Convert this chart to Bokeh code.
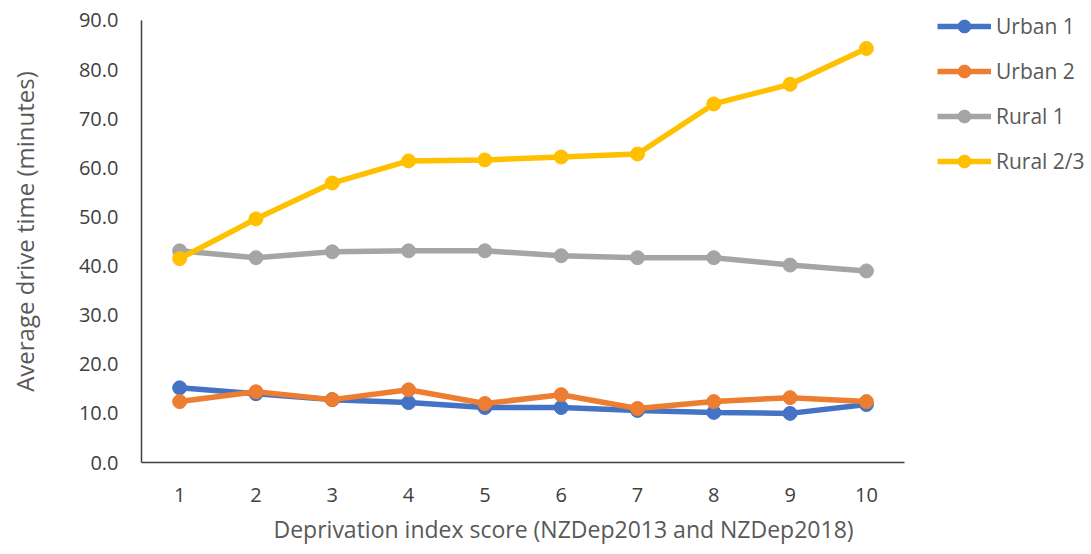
from bokeh.plotting import figure
from bokeh.models import FixedTicker, NumeralTickFormatter, Legend, LegendItem, Range1d, Title
from bokeh.embed import file_html
from bokeh.resources import INLINE

scores = [1, 2, 3, 4, 5, 6, 7, 8, 9, 10]
urban1 = [15.2, 14.0, 12.8, 12.2, 11.2, 11.2, 10.6, 10.2, 10.0, 11.8]
urban2 = [12.4, 14.4, 12.8, 14.8, 12.0, 13.8, 11.0, 12.4, 13.2, 12.4]
rural1 = [43.1, 41.7, 42.9, 43.1, 43.1, 42.1, 41.7, 41.7, 40.2, 39.0]
rural23 = [41.5, 49.6, 56.9, 61.4, 61.6, 62.2, 62.8, 73.0, 77.0, 84.3]
series_names = ["Urban 1", "Urban 2", "Rural 1", "Rural 2/3"]
series_colors = ["#4472C4", "#ED7D31", "#A5A5A5", "#FFC000"]
y_ticks = [0, 10, 20, 30, 40, 50, 60, 70, 80, 90]
x_title = "Deprivation index score (NZDep2013 and NZDep2018)"
y_title = "Average drive time (minutes)"

FONT = "Open Sans"

# the frame runs to the right and top edges so the legend can sit inside it;
# the axis lines themselves are bounded to the data area
p = figure(width=1091, height=554, output_backend="svg", toolbar_location=None,
           x_range=Range1d(0.5, 12.95), y_range=Range1d(0, 94.06),
           min_border_left=141, min_border_right=0, min_border_top=0, min_border_bottom=91)
p.outline_line_color = None
p.xgrid.visible = False
p.ygrid.visible = False

items = []
for name, color, vals in zip(series_names, series_colors, [urban1, urban2, rural1, rural23]):
    l = p.line(scores, vals, line_color=color, line_width=5.5)
    c = p.scatter(scores, vals, marker="circle", size=14, fill_color=color, line_color=color)
    items.append(LegendItem(label=name, renderers=[l, c]))

p.xaxis.ticker = FixedTicker(ticks=scores)
p.xaxis.bounds = (0.5, 10.5)
p.yaxis.ticker = FixedTicker(ticks=y_ticks)
p.yaxis.bounds = (0, 90)
p.yaxis.formatter = NumeralTickFormatter(format="0.0")

for ax in (p.xaxis[0], p.yaxis[0]):
    ax.major_tick_line_color = None
    ax.minor_tick_line_color = None
    ax.axis_line_color = "#404040"
    ax.axis_line_width = 1.5
    ax.major_label_text_font = FONT
    ax.major_label_text_font_size = "20px"
    ax.major_label_text_color = "#404040"
    ax.axis_label_text_font = FONT
    ax.axis_label_text_color = "#595959"
    ax.axis_label_text_font_style = "normal"

p.yaxis.axis_label_text_font_size = "24px"
p.yaxis.axis_label = y_title
p.xaxis.major_label_standoff = 19
p.yaxis.major_label_standoff = 17
p.yaxis.axis_label_standoff = 35

xt = Title(text=x_title, align="left", offset=132, standoff=16, vertical_align="top",
           text_font=FONT, text_font_size="23px", text_font_style="normal",
           text_color="#595959")
p.add_layout(xt, "below")

legend = Legend(items=items, location=(796, 285), orientation="vertical",
                glyph_width=54, glyph_height=32, label_height=32, spacing=13,
                label_standoff=5, padding=0, margin=0,
                border_line_color=None, background_fill_alpha=0,
                label_text_font=FONT, label_text_font_size="21px",
                label_text_color="#595959")
p.add_layout(legend, "center")

open("out.html", "w").write(file_html(p, INLINE))
